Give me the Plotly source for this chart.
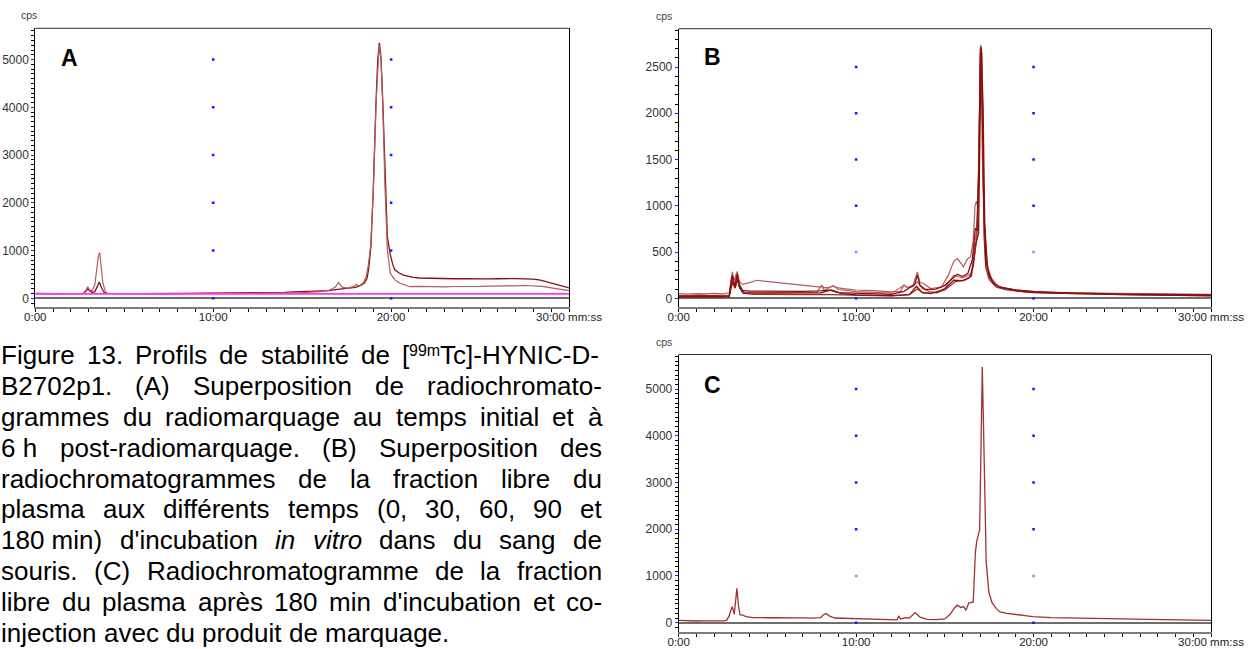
import re
import plotly.graph_objects as go

W, H = 1249, 649

# ---------------- Panel A: radiolabelling at t0 and 6 h ----------------
a_t0_time = [0, 0.4, 0.8, 1.2, 1.6, 2.0, 2.4, 2.7, 2.85, 2.95,
             3.05, 3.2, 3.35, 3.5, 3.6, 3.7, 3.85, 4.0, 4.5, 5.0,
             5.5, 6, 7, 8, 9, 10, 11, 12, 13, 14,
             14.5, 15, 15.5, 16, 16.5, 17, 17.5, 18, 18.3, 18.5,
             18.65, 18.75, 18.87, 19.0, 19.15, 19.25, 19.34, 19.43, 19.53, 19.65,
             19.79, 19.94, 20.1, 20.22, 20.45, 20.69, 21.0, 21.25, 21.6, 22,
             22.5, 23, 23.5, 24, 24.5, 25, 25.5, 26, 26.5, 27,
             27.5, 28, 28.4, 28.8, 29.2, 29.6, 30]
a_t0_cps = [105, 98, 102, 96, 100, 97, 103, 100, 150, 205,
            160, 120, 140, 260, 340, 240, 130, 105, 100, 97,
            102, 99, 96, 100, 98, 102, 105, 108, 115, 125,
            135, 140, 145, 150, 160, 185, 200, 230, 270, 320,
            420, 650, 1100, 2300, 4100, 5000, 5350, 5050, 4150, 2700,
            1290, 940, 700, 592, 530, 487, 460, 439, 425, 420,
            415, 418, 410, 414, 408, 412, 405, 410, 415, 412,
            405, 400, 380, 340, 295, 255, 220]

a_6h_time = [0, 0.4, 0.8, 1.2, 1.6, 2.0, 2.4, 2.7, 2.85, 2.95,
             3.05, 3.2, 3.35, 3.45, 3.55, 3.62, 3.7, 3.8, 3.95, 4.1,
             4.5, 5, 6, 7, 8, 9, 10, 11, 12, 13,
             14, 15, 16, 16.5, 16.85, 17.05, 17.25, 17.5, 17.9, 18.05,
             18.2, 18.45, 18.6, 18.72, 18.85, 19.0, 19.15, 19.25, 19.33, 19.43,
             19.53, 19.65, 19.79, 19.96, 20.2, 20.5, 20.8, 21.06, 21.5, 22,
             22.5, 23, 23.5, 24, 24.5, 25, 25.5, 26, 26.5, 27,
             27.5, 28, 28.5, 29, 29.5, 30]
a_6h_cps = [98, 104, 97, 101, 99, 104, 98, 102, 170, 240,
            180, 150, 300, 600, 900, 960, 720, 320, 130, 100,
            96, 101, 98, 102, 97, 100, 104, 100, 103, 108,
            112, 118, 140, 165, 230, 330, 235, 215, 245, 290,
            255, 330, 450, 700, 1100, 2250, 4050, 4950, 5300, 5000,
            4050, 2400, 1010, 520, 390, 314, 270, 243, 248, 242,
            246, 240, 247, 244, 250, 248, 254, 252, 258, 262,
            268, 266, 250, 218, 188, 160]

a_ref_time = [0, 30]
a_ref_cps = [92, 92]

# ---------------- Panel B: free plasma fraction, 0/30/60/90/180 min ----------------
b_0_time = [0, 0.5, 1, 1.5, 2, 2.5, 2.85, 2.95, 3.02, 3.12,
            3.2, 3.3, 3.42, 3.6, 4.0, 4.4, 4.8, 5.5, 6.2, 7.0,
            7.6, 8.0, 8.08, 8.2, 8.5, 8.7, 9.0, 9.5, 10, 11,
            12, 12.5, 12.7, 12.9, 13.2, 13.45, 13.6, 13.8, 14.2, 14.8,
            15.2, 15.5, 15.7, 15.9, 16.05, 16.25, 16.45, 16.6, 16.7, 16.78,
            16.86, 16.95, 17.02, 17.1, 17.2, 17.35, 17.5, 17.8, 18.2, 19,
            20, 21, 22, 24, 26, 28, 30]
b_0_cps = [52, 46, 50, 47, 53, 49, 60, 200, 285, 190,
           230, 290, 180, 150, 170, 195, 185, 170, 150, 140,
           128, 120, 135, 112, 118, 135, 112, 100, 90, 82,
           70, 75, 145, 115, 140, 285, 170, 160, 105, 120,
           250, 400, 430, 380, 340, 420, 450, 620, 1000, 1050,
           980, 2000, 2740, 2100, 900, 420, 260, 160, 110, 85,
           72, 62, 58, 52, 48, 45, 42]

b_30_time = [0, 0.6, 1.2, 1.8, 2.4, 2.85, 2.95, 3.02, 3.15, 3.3,
             3.42, 3.6, 4.0, 5, 6, 7, 8, 8.5, 9, 10,
             11, 12, 12.7, 13.0, 13.3, 13.45, 13.6, 13.9, 14.5, 15,
             15.4, 15.7, 16.0, 16.3, 16.55, 16.72, 16.82, 16.92, 17.0, 17.08,
             17.18, 17.3, 17.5, 17.8, 18.2, 19, 20, 22, 25, 28,
             30]
b_30_cps = [22, 18, 24, 19, 21, 25, 150, 240, 120, 265,
            150, 85, 78, 76, 72, 75, 80, 88, 62, 55,
            48, 42, 75, 110, 150, 250, 140, 95, 100, 140,
            215, 260, 235, 270, 420, 760, 730, 1500, 2700, 2650,
            1100, 420, 230, 150, 115, 90, 72, 58, 46, 40,
            36]

b_60_time = [0, 0.6, 1.2, 1.8, 2.4, 2.85, 2.97, 3.05, 3.18, 3.32,
             3.45, 3.7, 4.2, 5, 6, 7, 8, 8.6, 9.2, 10,
             11, 12, 13, 13.4, 13.7, 14.2, 15, 15.5, 16, 16.4,
             16.6, 16.75, 16.9, 17.0, 17.05, 17.15, 17.25, 17.4, 17.7, 18.1,
             19, 20, 22, 25, 28, 30]
b_60_cps = [14, 17, 12, 16, 13, 18, 130, 170, 110, 205,
            110, 62, 55, 57, 54, 56, 58, 90, 50, 36,
            32, 30, 40, 130, 65, 50, 100, 195, 190, 230,
            350, 600, 700, 2200, 2720, 2100, 800, 320, 170, 120,
            82, 62, 50, 40, 32, 26]

b_90_time = [0, 0.6, 1.2, 1.8, 2.4, 2.85, 2.95, 3.02, 3.15, 3.28,
             3.4, 3.6, 4.2, 5, 6, 7, 8, 9, 10, 11,
             12, 13, 13.45, 13.8, 14.5, 15, 15.6, 16.2, 16.5, 16.72,
             16.8, 16.9, 17.0, 17.06, 17.12, 17.2, 17.3, 17.5, 17.9, 18.5,
             19.5, 21, 23, 26, 30]
b_90_cps = [32, 28, 34, 29, 33, 35, 180, 250, 140, 240,
            130, 55, 42, 40, 43, 39, 42, 40, 32, 28,
            26, 40, 100, 55, 60, 90, 180, 200, 240, 560,
            640, 1200, 2650, 2125, 2100, 700, 330, 200, 120, 90,
            70, 55, 45, 36, 30]

b_180_time = [0, 0.6, 1.2, 1.8, 2.4, 2.85, 2.97, 3.05, 3.18, 3.3,
              3.45, 3.65, 4.2, 5, 6, 7, 7.8, 8.05, 8.2, 8.7,
              9.0, 10, 11, 12, 12.7, 12.9, 13.2, 13.45, 13.7, 14.1,
              14.6, 15, 15.5, 16, 16.5, 16.68, 16.78, 16.9, 17.02, 17.12,
              17.25, 17.4, 17.6, 18, 19, 20, 22, 25, 28, 30]
b_180_cps = [26, 30, 24, 28, 25, 30, 140, 200, 120, 220,
             110, 62, 60, 62, 58, 60, 64, 140, 85, 135,
             95, 72, 62, 55, 140, 115, 125, 180, 110, 75,
             60, 110, 250, 220, 265, 600, 700, 1300, 2700, 1500,
             700, 350, 220, 130, 88, 72, 56, 46, 40, 36]

# ---------------- Panel C: 180 min + co-injection ----------------
c_time = [0, 0.5, 1, 1.5, 2, 2.5, 2.7, 2.85, 2.95, 3.02,
          3.13, 3.2, 3.28, 3.36, 3.45, 3.6, 3.8, 4.2, 4.6, 5,
          5.5, 6, 6.5, 7, 7.5, 8, 8.15, 8.3, 8.5, 8.8,
          9.5, 10, 10.5, 11, 11.5, 12, 12.3, 12.4, 12.5, 12.8,
          13.0, 13.33, 13.6, 14, 14.5, 15, 15.3, 15.55, 15.7, 15.9,
          16.06, 16.19, 16.35, 16.6, 16.68, 16.72, 16.8, 16.96, 17.04, 17.11,
          17.18, 17.26, 17.33, 17.48, 17.66, 17.9, 18.1, 18.5, 18.86, 19.4,
          19.96, 21, 22, 23.5, 25, 26.5, 28, 29, 30]
c_cps = [50, 40, 36, 38, 35, 37, 50, 150, 280, 345,
         180, 400, 735, 400, 170, 160, 130, 110, 115, 105,
         108, 100, 104, 102, 98, 110, 170, 195, 140, 100,
         92, 85, 80, 75, 68, 62, 60, 145, 80, 110,
         100, 215, 120, 70, 65, 80, 180, 320, 375, 325,
         345, 265, 420, 445, 1000, 1500, 1750, 1985, 3800, 5470,
         4200, 2200, 1300, 650, 430, 300, 230, 200, 180, 150,
         130, 110, 100, 90, 80, 72, 62, 55, 50]

# Grid markers drawn by the acquisition software
grid_minutes = [10, 20]
a_grid_levels = [0, 1000, 2000, 3000, 4000, 5000]
b_grid_levels = [0, 500, 1000, 1500, 2000, 2500]
c_grid_levels = [0, 1000, 2000, 3000, 4000, 5000]
faint_levels = {"B": [500], "C": [1000]}

x_tick_minutes = [0, 10, 20, 30]
x_tick_labels = ["0:00", "10:00", "20:00", "30:00 mm:ss"]

caption_lines = [
    "Figure 13. Profils de stabilité de [<sup>99m</sup>Tc]-HYNIC-D-",
    "B2702p1. (A) Superposition de radiochromato-",
    "grammes du radiomarquage au temps initial et à",
    "6\u00a0h post-radiomarquage. (B) Superposition des",
    "radiochromatogrammes de la fraction libre du",
    "plasma aux différents temps (0, 30, 60, 90 et",
    "180\u00a0min) d'incubation <i>in</i> <i>vitro</i> dans du sang de",
    "souris. (C) Radiochromatogramme de la fraction",
    "libre du plasma après 180 min d'incubation et co-",
    "injection avec du produit de marquage.",
]

DARK = "#8a0f0f"
MID = "#9a2e2e"
LIGHT = "#b35c5c"
FONT = "Liberation Sans, Arial, sans-serif"

# panel geometry in pixels (left, right, top, bottom) and y range
panels = {
    "A": dict(xa="x", ya="y", box=(35.3, 569, 28.3, 307), yr=[-182, 5655], major=1000,
              levels=a_grid_levels, cps=(29, 15), letter=(69.5, 58)),
    "B": dict(xa="x2", ya="y2", box=(678.7, 1211, 28.7, 307), yr=[-94, 2914], major=500,
              levels=b_grid_levels, cps=(663.7, 15.5), letter=(712, 57)),
    "C": dict(xa="x3", ya="y3", box=(678.7, 1211, 354.5, 631.7), yr=[-193, 5739], major=1000,
              levels=c_grid_levels, cps=(663.7, 341.7), letter=(712, 385)),
}

series = [
    ("A", a_t0_time, a_t0_cps, DARK, 1.3),
    ("A", a_6h_time, a_6h_cps, LIGHT, 1.2),
    ("A", a_ref_time, a_ref_cps, "#ff33ff", 1.6),
    ("B", b_0_time, b_0_cps, LIGHT, 1.2),
    ("B", b_180_time, b_180_cps, LIGHT, 1.2),
    ("B", b_90_time, b_90_cps, MID, 1.2),
    ("B", b_60_time, b_60_cps, DARK, 1.3),
    ("B", b_30_time, b_30_cps, DARK, 1.3),
    ("C", c_time, c_cps, "#a03232", 1.3),
]

fig = go.Figure()

for name, t, v, color, width in series:
    p = panels[name]
    fig.add_trace(go.Scatter(x=t, y=v, mode="lines", line=dict(color=color, width=width),
                             xaxis=p["xa"], yaxis=p["ya"], hoverinfo="skip", showlegend=False))

for name, p in panels.items():
    gx, gy, gc = [], [], []
    for m in grid_minutes:
        for lv in p["levels"]:
            gx.append(m)
            gy.append(lv)
            gc.append("#8c8cff" if lv in faint_levels.get(name, []) else "#1a1aff")
    fig.add_trace(go.Scatter(x=gx, y=gy, mode="markers",
                             marker=dict(symbol="square", size=2.6, color=gc, line=dict(width=0)),
                             xaxis=p["xa"], yaxis=p["ya"], hoverinfo="skip", showlegend=False))

layout = dict(width=W, height=H, margin=dict(l=0, r=0, t=0, b=0, pad=0, autoexpand=False),
              paper_bgcolor="white", plot_bgcolor="white", showlegend=False)

annotations = []
shapes = []
for name, p in panels.items():
    l, r, t, b = p["box"]
    xkey = "xaxis" + p["xa"][1:]
    ykey = "yaxis" + p["ya"][1:]
    layout[xkey] = dict(
        domain=[l / W, r / W], range=[0, 30], anchor=p["ya"], automargin=False,
        showline=True, linecolor="#7c7c7c", linewidth=2,
        ticks="outside", ticklen=3, tickwidth=1, tickcolor="black",
        tickvals=x_tick_minutes, ticktext=x_tick_labels, ticklabelstandoff=-5,
        tickfont=dict(family=FONT, size=11.5, color="#222"),
        minor=dict(ticks="outside", dtick=1, ticklen=3, tickwidth=1, tickcolor="black", showgrid=False),
        showgrid=False, zeroline=False,
    )
    layout[ykey] = dict(
        domain=[1 - b / H, 1 - t / H], range=p["yr"], anchor=p["xa"], automargin=False,
        showline=True, linecolor="black", linewidth=1, mirror=True,
        ticks="outside", ticklen=3, tickwidth=1, tickcolor="#2020ff",
        tick0=0, dtick=p["major"],
        tickfont=dict(family=FONT, size=12, color="#333"),
        minor=dict(ticks="outside", dtick=100, ticklen=3, tickwidth=1, tickcolor="black", showgrid=False),
        showgrid=False, zeroline=True, zerolinecolor="#6e6e6e", zerolinewidth=1.6,
    )
    shapes.append(dict(type="line", xref=p["xa"] + " domain", yref=p["ya"] + " domain",
                       x0=0, x1=1, y0=1, y1=1, line=dict(color="#333", width=1)))
    cx, cy = p["cps"]
    annotations.append(dict(xref="paper", yref="paper", x=cx / W, y=1 - cy / H,
                            xanchor="center", yanchor="middle", showarrow=False, text="cps",
                            font=dict(family=FONT, size=10.5, color="#444")))
    lx, ly = p["letter"]
    annotations.append(dict(xref="paper", yref="paper", x=lx / W, y=1 - ly / H,
                            xanchor="center", yanchor="middle", showarrow=False,
                            text="<b>%s</b>" % name, font=dict(family=FONT, size=23, color="black")))

# ---------------- justified caption ----------------
ARIAL_W = {" ": 278, "\u00a0": 278, ".": 278, ",": 278, "(": 333, ")": 333, "[": 278, "]": 278,
           "-": 333, "'": 191, ":": 278, "é": 556, "è": 556, "à": 556}
for ch in "0123456789":
    ARIAL_W[ch] = 556
ARIAL_W.update(dict(zip("abcdefghijklmnopqrstuvwxyz",
                        [556, 556, 500, 556, 556, 278, 556, 556, 222, 222, 500, 222, 833,
                         556, 556, 556, 556, 333, 500, 278, 556, 500, 722, 500, 500, 500])))
ARIAL_W.update(dict(zip("ABCDEFGHIJKLMNOPQRSTUVWXYZ",
                        [667, 667, 722, 722, 667, 611, 778, 722, 278, 500, 667, 556, 833,
                         722, 778, 667, 778, 722, 667, 611, 722, 667, 944, 667, 667, 611])))

FS = 26
SUP_FS = 16
CAP_LEFT, CAP_RIGHT = 1.0, 602.0
BASE0, LEAD = 364.5, 30.8


def segments(token):
    out, pos = [], 0
    for m in re.finditer(r"<(i|sup)>(.*?)</\1>", token):
        if m.start() > pos:
            out.append((token[pos:m.start()], "n"))
        out.append((m.group(2), m.group(1)))
        pos = m.end()
    if pos < len(token):
        out.append((token[pos:], "n"))
    return out


def seg_width(text, style):
    size = SUP_FS if style == "sup" else FS
    return sum(ARIAL_W.get(ch, 556) for ch in text) * size / 1000.0


for i, line in enumerate(caption_lines):
    tokens = [segments(tok) for tok in line.split(" ")]
    widths = [sum(seg_width(s, st) for s, st in tok) for tok in tokens]
    if i < len(caption_lines) - 1 and len(tokens) > 1:
        gap = (CAP_RIGHT - CAP_LEFT - sum(widths)) / (len(tokens) - 1)
    else:
        gap = ARIAL_W[" "] * FS / 1000.0
    base = BASE0 + LEAD * i
    x = CAP_LEFT
    for tok, w in zip(tokens, widths):
        for text, style in tok:
            if style == "sup":
                size, yc = SUP_FS, base - 8.0 - 0.3465 * SUP_FS
            else:
                size, yc = FS, base - 0.3465 * FS
            shown = "<i>%s</i>" % text if style == "i" else text
            annotations.append(dict(xref="paper", yref="paper", x=x / W, y=1 - yc / H,
                                    xanchor="left", yanchor="middle", showarrow=False,
                                    text=shown, borderpad=0, borderwidth=0,
                                    font=dict(family=FONT, size=size, color="black")))
            x += seg_width(text, style)
        x += gap

layout["annotations"] = annotations
layout["shapes"] = shapes
fig.update_layout(**layout)
fig.write_html("out.html")
